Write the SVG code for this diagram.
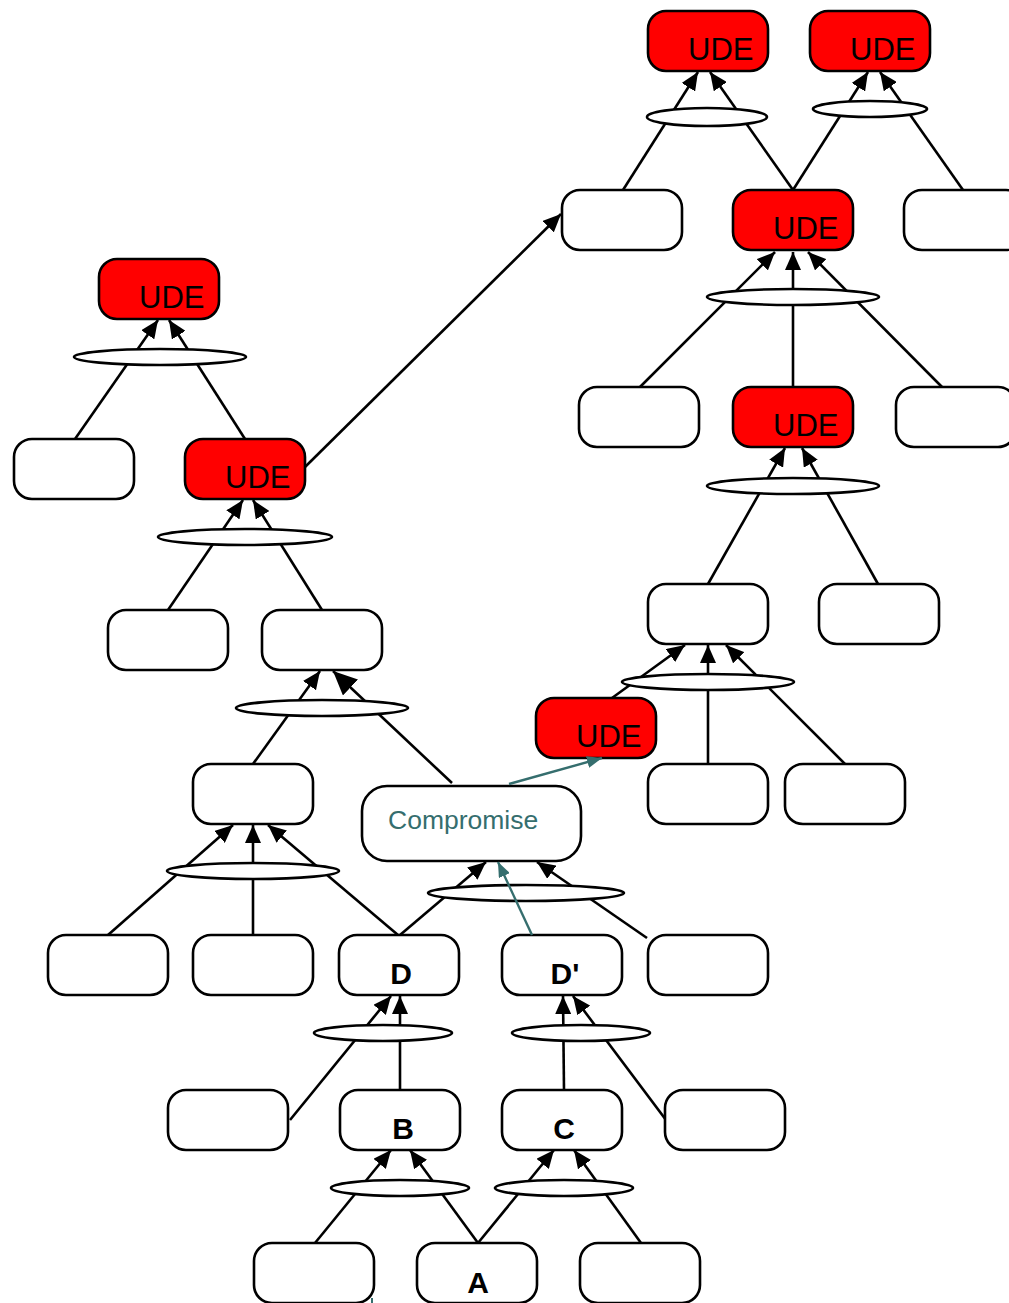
<svg xmlns="http://www.w3.org/2000/svg" width="1009" height="1303" viewBox="0 0 1009 1303">
<style>
.box{fill:#fff;stroke:#000;stroke-width:2.6}
.ude{fill:#ff0000;stroke:#000;stroke-width:2.6}
.and{fill:#fff;stroke:#000;stroke-width:2.6}
.ln{stroke:#000;stroke-width:2.6;fill:none;marker-end:url(#ah)}
.lnb{stroke:#000;stroke-width:2.6;fill:none;marker-end:url(#ahb)}
.tl{stroke:#356e6e;stroke-width:2.4;fill:none;marker-end:url(#aht)}
.ut{font-family:"Liberation Sans",Arial,sans-serif;font-size:31px;fill:#000}
.lt{font-family:"Liberation Sans",Arial,sans-serif;font-size:30px;font-weight:bold;fill:#000;text-anchor:middle}
.ct{font-family:"Liberation Sans",Arial,sans-serif;font-size:26.5px;fill:#356e6e}
</style>
<defs>
<marker id="ah" viewBox="0 0 18 16" refX="18" refY="8" markerWidth="18" markerHeight="16" markerUnits="userSpaceOnUse" orient="auto"><path d="M0,0 L18,8 L0,16 z" fill="#000"/></marker>
<marker id="ahb" viewBox="0 0 24 22" refX="24" refY="11" markerWidth="24" markerHeight="22" markerUnits="userSpaceOnUse" orient="auto"><path d="M0,0 L24,11 L0,22 z" fill="#000"/></marker>
<marker id="aht" viewBox="0 0 15 12" refX="15" refY="6" markerWidth="15" markerHeight="12" markerUnits="userSpaceOnUse" orient="auto"><path d="M0,0 L15,6 L0,12 z" fill="#356e6e"/></marker>
</defs>
<rect width="1009" height="1303" fill="#fff"/>
<g id="connectors">
<line class="ln" x1="623" y1="190" x2="698" y2="72"/>
<line class="ln" x1="793" y1="190" x2="710" y2="72"/>
<line class="ln" x1="793" y1="190" x2="868" y2="72"/>
<line class="ln" x1="963" y1="190" x2="880" y2="72"/>
<line class="ln" x1="640" y1="387" x2="775" y2="252"/>
<line class="ln" x1="793" y1="387" x2="793" y2="252"/>
<line class="ln" x1="942" y1="387" x2="808" y2="252"/>
<line class="ln" x1="708" y1="584" x2="785" y2="448"/>
<line class="ln" x1="878" y1="584" x2="802" y2="448"/>
<line class="ln" x1="75" y1="439" x2="158" y2="320"/>
<line class="ln" x1="245" y1="439" x2="169" y2="320"/>
<line class="ln" x1="305" y1="467" x2="561" y2="214"/>
<line class="ln" x1="168" y1="610" x2="243" y2="500"/>
<line class="ln" x1="322" y1="610" x2="253" y2="500"/>
<line class="ln" x1="612" y1="698" x2="685" y2="645"/>
<line class="ln" x1="708" y1="764" x2="708" y2="645"/>
<line class="ln" x1="845" y1="764" x2="726" y2="645"/>
<line class="ln" x1="253" y1="764" x2="320" y2="671"/>
<line class="lnb" x1="452" y1="783" x2="333" y2="671"/>
<line class="ln" x1="108" y1="935" x2="233" y2="825"/>
<line class="ln" x1="253" y1="935" x2="253" y2="825"/>
<line class="ln" x1="398" y1="935" x2="268" y2="825"/>
<line class="ln" x1="400" y1="935" x2="486" y2="862"/>
<line class="ln" x1="647" y1="938" x2="537" y2="862"/>
<line class="ln" x1="290" y1="1120" x2="391" y2="996"/>
<line class="ln" x1="400" y1="1090" x2="400" y2="996"/>
<line class="ln" x1="564" y1="1090" x2="563" y2="996"/>
<line class="ln" x1="666" y1="1120" x2="573" y2="996"/>
<line class="ln" x1="315" y1="1243" x2="391" y2="1150"/>
<line class="ln" x1="478" y1="1243" x2="410" y2="1150"/>
<line class="ln" x1="478" y1="1243" x2="554" y2="1150"/>
<line class="ln" x1="641" y1="1243" x2="574" y2="1150"/>
</g>
<g id="and1"><ellipse class="and" cx="707" cy="117" rx="60" ry="9"/></g>
<g id="and2"><ellipse class="and" cx="870" cy="109" rx="57" ry="8"/></g>
<g id="and3"><ellipse class="and" cx="793" cy="297" rx="86" ry="8"/></g>
<g id="and4"><ellipse class="and" cx="793" cy="486" rx="86" ry="8"/></g>
<g id="and5"><ellipse class="and" cx="160" cy="357" rx="86" ry="8"/></g>
<g id="and6"><ellipse class="and" cx="245" cy="537" rx="87" ry="8"/></g>
<g id="and7"><ellipse class="and" cx="708" cy="682" rx="86" ry="8"/></g>
<g id="and8"><ellipse class="and" cx="322" cy="708" rx="86" ry="8"/></g>
<g id="and9"><ellipse class="and" cx="253" cy="871" rx="86" ry="8"/></g>
<g id="and10"><ellipse class="and" cx="526" cy="893" rx="98" ry="8"/></g>
<g id="and11"><ellipse class="and" cx="383" cy="1033" rx="69" ry="8"/></g>
<g id="and12"><ellipse class="and" cx="581" cy="1033" rx="69" ry="8"/></g>
<g id="and13"><ellipse class="and" cx="400" cy="1188" rx="69" ry="8"/></g>
<g id="and14"><ellipse class="and" cx="564" cy="1188" rx="69" ry="8"/></g>
<g id="ude1"><rect class="ude" x="648" y="11" width="120" height="60" rx="18"/><text class="ut" x="688" y="60">UDE</text></g>
<g id="ude2"><rect class="ude" x="810" y="11" width="120" height="60" rx="18"/><text class="ut" x="850" y="60">UDE</text></g>
<g id="ude3"><rect class="ude" x="733" y="190" width="120" height="60" rx="18"/><text class="ut" x="773" y="239">UDE</text></g>
<g id="ude4"><rect class="ude" x="733" y="387" width="120" height="60" rx="18"/><text class="ut" x="773" y="436">UDE</text></g>
<g id="ude5"><rect class="ude" x="99" y="259" width="120" height="60" rx="18"/><text class="ut" x="139" y="308">UDE</text></g>
<g id="ude6"><rect class="ude" x="185" y="439" width="120" height="60" rx="18"/><text class="ut" x="225" y="488">UDE</text></g>
<g id="ude7"><rect class="ude" x="536" y="698" width="120" height="60" rx="18"/><text class="ut" x="576" y="747">UDE</text></g>
<g id="n1"><rect class="box" x="562" y="190" width="120" height="60" rx="18"/></g>
<g id="n2"><rect class="box" x="904" y="190" width="120" height="60" rx="18"/></g>
<g id="n3"><rect class="box" x="579" y="387" width="120" height="60" rx="18"/></g>
<g id="n4"><rect class="box" x="896" y="387" width="120" height="60" rx="18"/></g>
<g id="n5"><rect class="box" x="14" y="439" width="120" height="60" rx="18"/></g>
<g id="n6"><rect class="box" x="648" y="584" width="120" height="60" rx="18"/></g>
<g id="n7"><rect class="box" x="819" y="584" width="120" height="60" rx="18"/></g>
<g id="n8"><rect class="box" x="108" y="610" width="120" height="60" rx="18"/></g>
<g id="n9"><rect class="box" x="262" y="610" width="120" height="60" rx="18"/></g>
<g id="n10"><rect class="box" x="193" y="764" width="120" height="60" rx="18"/></g>
<g id="n11"><rect class="box" x="648" y="764" width="120" height="60" rx="18"/></g>
<g id="n12"><rect class="box" x="785" y="764" width="120" height="60" rx="18"/></g>
<g id="compromise"><rect class="box" x="362" y="786" width="219" height="75" rx="25"/><text class="ct" x="388" y="829">Compromise</text></g>
<g id="n13"><rect class="box" x="48" y="935" width="120" height="60" rx="18"/></g>
<g id="n14"><rect class="box" x="193" y="935" width="120" height="60" rx="18"/></g>
<g id="nD"><rect class="box" x="339" y="935" width="120" height="60" rx="18"/><text class="lt" x="401" y="984">D</text></g>
<g id="nD2"><rect class="box" x="502" y="935" width="120" height="60" rx="18"/><text class="lt" x="565" y="984">D'</text></g>
<g id="n15"><rect class="box" x="648" y="935" width="120" height="60" rx="18"/></g>
<g id="n16"><rect class="box" x="168" y="1090" width="120" height="60" rx="18"/></g>
<g id="nB"><rect class="box" x="340" y="1090" width="120" height="60" rx="18"/><text class="lt" x="403" y="1139">B</text></g>
<g id="nC"><rect class="box" x="502" y="1090" width="120" height="60" rx="18"/><text class="lt" x="564" y="1139">C</text></g>
<g id="n17"><rect class="box" x="665" y="1090" width="120" height="60" rx="18"/></g>
<g id="n18"><rect class="box" x="254" y="1243" width="120" height="60" rx="18"/></g>
<g id="nA"><rect class="box" x="417" y="1243" width="120" height="60" rx="18"/><text class="lt" x="478" y="1293">A</text></g>
<g id="n19"><rect class="box" x="580" y="1243" width="120" height="60" rx="18"/></g>
<g id="connectors-teal">
<line class="tl" x1="509" y1="784" x2="602" y2="758"/>
<line class="tl" x1="532" y1="935" x2="498" y2="862"/>
<line x1="372" y1="1298" x2="372" y2="1303" stroke="#356e6e" stroke-width="2"/>
</g>
</svg>
